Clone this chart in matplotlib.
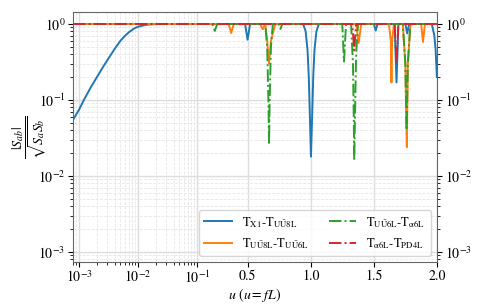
import numpy as np
import matplotlib.pyplot as plt
from matplotlib.ticker import FixedLocator, FixedFormatter, NullFormatter

plt.rcParams["font.family"] = "serif"
plt.rcParams["font.serif"] = ["STIXGeneral", "DejaVu Serif"]
plt.rcParams["mathtext.fontset"] = "stix"

# ---- data ----
x_blue = [7.9e-4, 1.0e-3, 1.2e-3, 1.6e-3, 2e-3, 2.6e-3, 3.2e-3, 4e-3, 5e-3, 6e-3, 7e-3,
          8.5e-3, 1e-2, 1.3e-2, 1.7e-2, 2.5e-2, 0.48, 0.5, 0.52,
          0.94, 0.96, 0.975, 0.985, 0.995, 1.002, 1.01, 1.02, 1.03, 1.045, 1.065,
          1.50, 1.515, 1.53, 1.665, 1.68, 1.695, 1.75, 1.765, 1.78, 1.96, 1.98, 1.99, 2.0]
y_blue = [0.055, 0.075, 0.1, 0.15, 0.2, 0.28, 0.36, 0.47, 0.6, 0.7, 0.78,
          0.87, 0.92, 0.97, 0.99, 1.0, 1.0, 0.62, 1.0,
          1.0, 0.8, 0.45, 0.2, 0.05, 0.018, 0.05, 0.2, 0.45, 0.8, 1.0,
          1.0, 0.82, 1.0, 1.0, 0.17, 1.0, 1.0, 0.75, 1.0, 1.0, 0.7, 0.45, 0.2]

x_orange = [7.9e-4, 0.35, 0.37, 0.39, 0.60, 0.62, 0.64, 0.655, 0.67, 0.685, 0.70, 0.72,
            1.36, 1.38, 1.40, 1.62, 1.635, 1.64, 1.645, 1.66, 1.73, 1.75, 1.758, 1.762,
            1.77, 1.79, 1.875, 1.89, 1.905, 2.0]
y_orange = [1.0, 1.0, 0.76, 1.0, 1.0, 0.85, 1.0, 0.6, 0.3, 0.6, 0.75, 1.0,
            1.0, 0.56, 1.0, 1.0, 0.6, 0.17, 0.6, 1.0, 1.0, 0.3, 0.05, 0.024,
            0.3, 1.0, 1.0, 0.58, 1.0, 1.0]

x_green = [7.9e-4, 0.22, 0.24, 0.26, 0.64, 0.655, 0.665, 0.67, 0.675, 0.685, 0.70,
           0.745, 0.76, 0.775, 1.25, 1.264, 1.28, 1.32, 1.335, 1.342, 1.345, 1.35,
           1.36, 1.375, 1.73, 1.75, 1.76, 1.77, 1.79, 2.0]
y_green = [1.0, 1.0, 0.81, 1.0, 1.0, 0.5, 0.1, 0.026, 0.1, 0.5, 1.0,
           1.0, 0.86, 1.0, 1.0, 0.32, 1.0, 1.0, 0.3, 0.05, 0.016, 0.05,
           0.4, 1.0, 1.0, 0.3, 0.04, 0.3, 1.0, 1.0]

x_red = [7.9e-4, 1.33, 1.345, 1.36, 1.665, 1.68, 1.695, 2.0]
y_red = [1.0, 1.0, 0.45, 1.0, 1.0, 0.31, 1.0, 1.0]

labels = [r"T$_{\rm X1}$-T$_{\rm U\bar{U}8L}$",
          r"T$_{\rm U\bar{U}8L}$-T$_{\rm U\bar{U}6L}$",
          r"T$_{\rm U\bar{U}6L}$-T$_{\rm \alpha6L}$",
          r"T$_{\rm \alpha6L}$-T$_{\rm PD4L}$"]

# log below 0.1, linear above
T = 0.1
K = 2.14


def fwd(x):
    x = np.asarray(x, dtype=float)
    with np.errstate(divide="ignore", invalid="ignore"):
        return np.where(x < T, np.log10(np.maximum(x, 1e-12) / T), (x - T) * K)


def inv(y):
    y = np.asarray(y, dtype=float)
    return np.where(y < 0, T * 10.0 ** np.minimum(y, 0), T + y / K)


fig = plt.figure(figsize=(4.78, 3.06), dpi=100)
ax = fig.add_axes([0.153, 0.144, 0.761, 0.817])

ax.plot(x_blue, y_blue, color="tab:blue", lw=1.4, label=labels[0])
ax.plot(x_orange, y_orange, color="tab:orange", lw=1.4, label=labels[1])
ax.plot(x_green, y_green, color="tab:green", lw=1.4, ls="-.", label=labels[2])
ax.plot(x_red, y_red, color="tab:red", lw=1.4, ls="-.", label=labels[3])

ax.set_xscale("function", functions=(fwd, inv))
ax.set_yscale("log")
ax.set_xlim(7.9e-4, 2.0)
ax.set_ylim(7.4e-4, 1.44)

major = [1e-3, 1e-2, 1e-1, 0.5, 1.0, 1.5, 2.0]
ax.xaxis.set_major_locator(FixedLocator(major))
ax.xaxis.set_major_formatter(FixedFormatter([r"$10^{-3}$", r"$10^{-2}$", r"$10^{-1}$",
                                             "0.5", "1.0", "1.5", "2.0"]))
minor = [k * 10.0 ** e for e in (-4, -3, -2) for k in range(2, 10)]
ax.xaxis.set_minor_locator(FixedLocator(minor))
ax.xaxis.set_minor_formatter(NullFormatter())

ax.tick_params(axis="y", which="both", right=True, labelright=True)
ax.tick_params(axis="both", labelsize=10, pad=2)
ax.grid(True, which="major", color="#dddddd", lw=1.0)
ax.grid(True, which="minor", color="#e6e6e6", lw=0.6, ls="--")
for s in ax.spines.values():
    s.set_color("#666666")

ax.set_xlabel(r"$u$ ($u=fL$)", fontsize=10, labelpad=0)
ax.set_ylabel(r"$\dfrac{|S_{ab}|}{\sqrt{S_a S_b}}$", fontsize=10, va="center")
ax.yaxis.set_label_coords(-0.118, 0.5)
ax.legend(loc="lower right", ncol=2, fontsize=9, handlelength=2.2,
          columnspacing=1.6, framealpha=0.8)

fig.savefig("out.png", dpi=100)
